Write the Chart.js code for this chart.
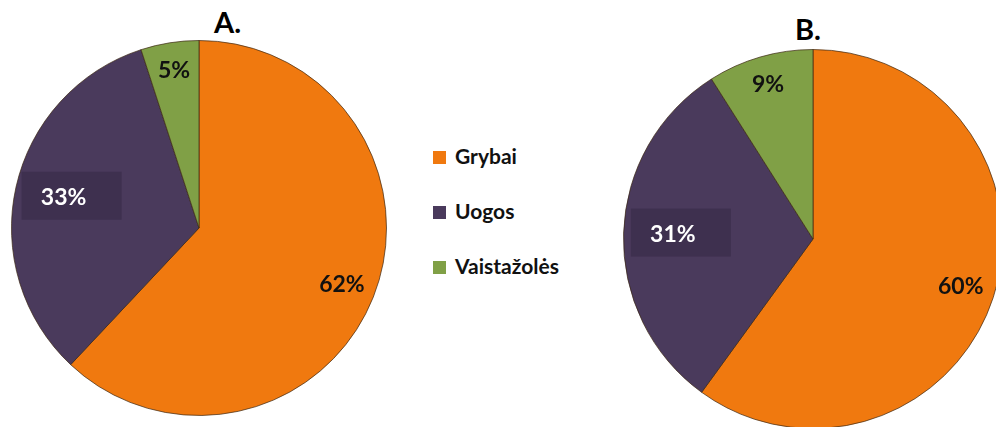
<!DOCTYPE html>
<html>
<head>
<meta charset="utf-8">
<script src="https://cdn.jsdelivr.net/npm/chart.js@4.4.0/dist/chart.umd.min.js"></script>
<style>
  html, body { margin: 0; padding: 0; background: #fff; overflow: hidden; }
  body { width: 996px; height: 427px; position: relative; font-family: Lato, "Open Sans", sans-serif; }
  canvas { position: absolute; }
  .title { position: absolute; font-weight: bold; font-size: 29px; color: #000; }
  #legend { position: absolute; left: 433px; top: 143px; }
  .item { height: 55px; display: flex; align-items: flex-start; font-weight: bold; font-size: 21px; color: #111; }
  .box { width: 13px; height: 13px; margin: 8px 9px 0 0; }
</style>
</head>
<body>
<div class="title" style="left:214px;top:4px">A.</div>
<div class="title" style="left:795px;top:11px">B.</div>
<canvas id="pieA" width="376" height="376" style="left:11px;top:40px"></canvas>
<canvas id="pieB" width="380" height="380" style="left:623px;top:49px"></canvas>
<div id="legend"></div>
<script>
const categories = ["Grybai", "Uogos", "Vaistažolės"];
const valuesA = [62, 33, 5];
const valuesB = [60, 31, 9];
const colors = ["#F0790F", "#4A3A5C", "#80A046"];

// label distance from center as fraction of radius, per slice
const labelPos = [0.82, 0.74, 0.85];
const labelColor = ["#111", "#fff", "#111"];

const pctLabels = {
  id: "pctLabels",
  afterDatasetsDraw(chart) {
    const ctx = chart.ctx;
    const meta = chart.getDatasetMeta(0);
    const data = chart.data.datasets[0].data;
    const total = data.reduce((a, b) => a + b, 0);
    ctx.save();
    ctx.font = "bold 23px Lato, 'Open Sans', sans-serif";
    ctx.textAlign = "center";
    ctx.textBaseline = "middle";
    meta.data.forEach((arc, i) => {
      const p = arc.getProps(["startAngle", "endAngle", "outerRadius", "x", "y"], true);
      const mid = (p.startAngle + p.endAngle) / 2;
      const r = p.outerRadius * labelPos[i];
      const x = p.x + Math.cos(mid) * r;
      const y = p.y + Math.sin(mid) * r;
      if (i === 1) {
        ctx.fillStyle = "#3E304F";
        ctx.fillRect(x - 42, y - 26, 100, 48);
      }
      ctx.fillStyle = labelColor[i];
      ctx.fillText(Math.round(data[i] / total * 100) + "%", x, y);
    });
    ctx.restore();
  }
};

function renderPie(canvasId, values) {
  const ctx = document.getElementById(canvasId).getContext("2d");
  new Chart(ctx, {
    type: "pie",
    data: {
      labels: categories,
      datasets: [{
        data: values,
        backgroundColor: colors,
        borderColor: "rgba(60, 40, 20, 0.7)",
        borderWidth: 1
      }]
    },
    options: {
      responsive: false,
      animation: false,
      layout: { padding: 0 },
      plugins: { legend: { display: false }, tooltip: { enabled: false } }
    },
    plugins: [pctLabels]
  });
}

renderPie("pieA", valuesA);
renderPie("pieB", valuesB);

const legend = document.getElementById("legend");
categories.forEach((c, i) => {
  const row = document.createElement("div");
  row.className = "item";
  row.innerHTML = '<span class="box" style="background:' + colors[i] + '"></span>' + c;
  legend.appendChild(row);
});
</script>
</body>
</html>
